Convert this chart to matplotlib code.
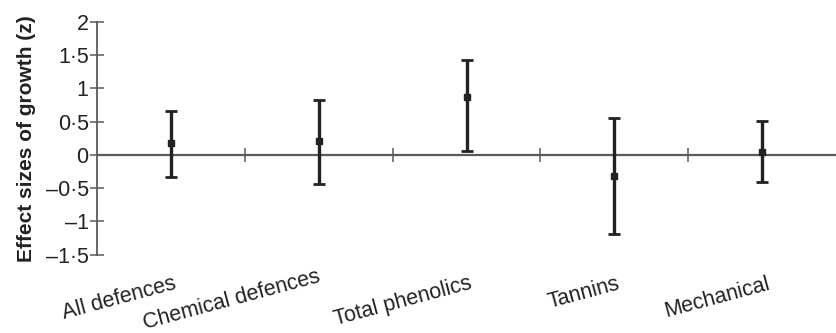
import matplotlib
matplotlib.use("Agg")
import matplotlib.pyplot as plt
import matplotlib.transforms as mtransforms

categories = ["All defences", "Chemical defences", "Total phenolics", "Tannins", "Mechanical"]
means = [0.18, 0.21, 0.87, -0.31, 0.04]
upper = [0.66, 0.83, 1.43, 0.55, 0.51]
lower = [-0.33, -0.44, 0.06, -1.19, -0.40]
yticks = [-1.5, -1, -0.5, 0, 0.5, 1, 1.5, 2]
ytick_labels = ["\u20131\u00b75", "\u20131", "\u20130\u00b75", "0", "0\u00b75", "1", "1\u00b75", "2"]

# label layout nudges (pixels)
label_dx = [-3, -7, -3, -3, 0]
label_dy = [0, 7, 0, 0, 0]

plt.rcParams['font.family'] = ['Liberation Sans', 'DejaVu Sans']

fig = plt.figure(figsize=(8.36, 3.33), dpi=100)
ax = fig.add_axes([97/836, 1-254.7/333, 1-97/836, (254.7-22)/333])

n = len(categories)
xs = [i + 0.5 for i in range(n)]
yerr = [[m - l for m, l in zip(means, lower)], [u - m for m, u in zip(means, upper)]]

axis_color = "#5a5a5a"
ax.errorbar(xs, means, yerr=yerr, fmt='s', color='#222222', ms=4,
            elinewidth=2.4, capsize=4, capthick=2.0, zorder=3)

ax.set_xlim(0, n)
ax.set_ylim(-1.5, 2)

for s in ['top', 'right']:
    ax.spines[s].set_visible(False)
ax.spines['left'].set_color(axis_color)
ax.spines['left'].set_linewidth(1.3)
ax.spines['bottom'].set_position(('data', 0))
ax.spines['bottom'].set_color(axis_color)
ax.spines['bottom'].set_linewidth(1.6)

ax.set_yticks(yticks)
ax.set_yticklabels(ytick_labels, fontsize=15.5, color='#222222')
ax.tick_params(axis='y', direction='inout', length=10, width=1.1, color=axis_color, pad=1)

ax.set_xticks(range(1, n))
ax.set_xticklabels([])
ax.tick_params(axis='x', direction='inout', length=10, width=1.1, color=axis_color)

trans = mtransforms.blended_transform_factory(ax.transData, ax.transAxes)
for x, lab, dx, dy in zip(xs, categories, label_dx, label_dy):
    t = trans + mtransforms.ScaledTranslation(dx / 100, dy / 100, fig.dpi_scale_trans)
    ax.text(x + 0.035, -0.08, lab, transform=t, rotation=15, rotation_mode='anchor',
            ha='right', va='top', fontsize=15.5, color='#222222')

ax.set_ylabel("Effect sizes of growth (z)", fontsize=15, fontweight='bold', color='#222222', labelpad=7)

fig.savefig("out.png", dpi=100)
